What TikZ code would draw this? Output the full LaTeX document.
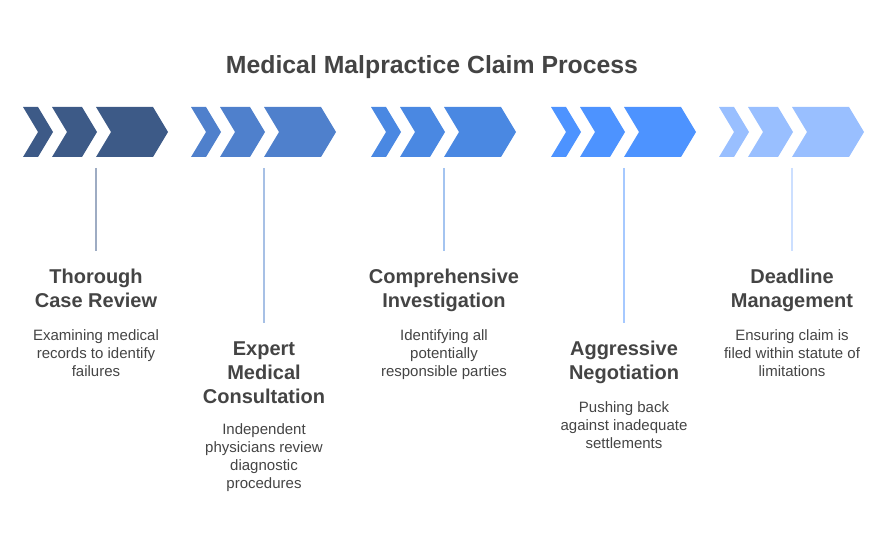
\documentclass[tikz,border=0pt]{standalone}
\usepackage{fontspec}
\setmainfont{Liberation Sans}
\definecolor{stepA}{HTML}{3D5A87}
\definecolor{stepB}{HTML}{4F80CC}
\definecolor{stepC}{HTML}{4A88E2}
\definecolor{stepD}{HTML}{4D93FF}
\definecolor{stepE}{HTML}{99BFFF}
\definecolor{ink}{HTML}{444444}

\tikzstyle{title}=[font=\bfseries\fontsize{24.8}{29}\selectfont,text=ink,anchor=base,inner sep=0pt]
\tikzstyle{heading}=[font=\bfseries\fontsize{20}{24}\selectfont,text=ink,align=center,anchor=base,inner sep=0pt]
\tikzstyle{blurb}=[font=\fontsize{15}{18}\selectfont,text=ink,align=center,anchor=base,inner sep=0pt]
\tikzstyle{stem}=[draw,line width=1.5pt]

\newcommand{\chevron}[3]{%
  \fill[#3] (#1,107) -- (#2,107) -- (#2+15,132) -- (#2,157) -- (#1,157) -- (#1+15,132) -- cycle;}

\begin{document}
\begin{tikzpicture}[x=1pt,y=-1pt]
\useasboundingbox (0,0) rectangle (888,540);
\node[title] (title) at (432,74) {Medical Malpractice Claim Process};
% base anchor sits on the last line of each text block
\foreach \x/\col/\stop/\hy/\dy/\name/\head/\desc in {
    96/stepA/251/307/376.5/review/{Thorough\\Case Review}/{Examining medical\\records to identify\\failures},
    264/stepB/323/403/488.5/expert/{Expert\\Medical\\Consultation}/{Independent\\physicians review\\diagnostic\\procedures},
    444/stepC/251/307/376.5/search/{Comprehensive\\Investigation}/{Identifying all\\potentially\\responsible parties},
    624/stepD/323/379/448.5/deal/{Aggressive\\Negotiation}/{Pushing back\\against inadequate\\settlements},
    792/stepE/251/307/376.5/clock/{Deadline\\Management}/{Ensuring claim is\\filed within statute of\\limitations}}{
  \begin{scope}[shift={(\x,0)}]
    \chevron{-73}{-58}{\col}
    \chevron{-44}{-14}{\col}
    \chevron{0}{57}{\col}
  \end{scope}
  \coordinate (top\name) at (\x,168);
  \coordinate (end\name) at (\x,\stop);
  \draw[stem,\col!50] (top\name) -- (end\name);
  \node[heading] (head\name) at (\x,\hy) {\head};
  \node[blurb] (desc\name) at (\x,\dy) {\desc};
}
\end{tikzpicture}
\end{document}
